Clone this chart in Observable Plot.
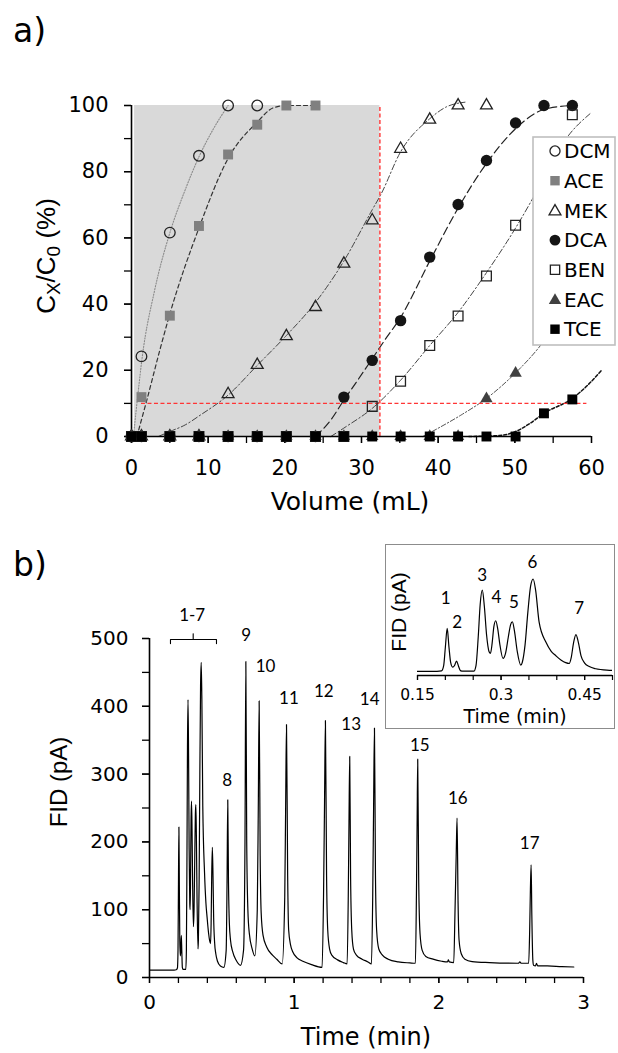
<!DOCTYPE html>
<html>
<head>
<meta charset="utf-8">
<script src="https://cdn.jsdelivr.net/npm/d3@7"></script>
<script src="https://cdn.jsdelivr.net/npm/@observablehq/plot@0.6"></script>
<style>
  html, body { margin: 0; padding: 0; background: #fff; }
  #root { position: relative; width: 618px; height: 1053px; overflow: hidden; background: #fff; }
</style>
</head>
<body>
<div id="root"></div>
<script>
// ---------------- DATA: panel a) breakthrough curves ----------------
const volumes = [0, 1.3, 5.0, 8.8, 12.6, 16.4, 20.2, 24.0, 27.7, 31.4, 35.1, 38.9, 42.6, 46.3, 50.1, 53.8, 57.5];
const compounds = ["DCM", "ACE", "MEK", "DCA", "BEN", "EAC", "TCE"];

const dcmValues = [0, 24.2, 61.6, 84.8, 100, 100, null, null, null, null, null, null, null, null, null, null, null];
const aceValues = [0, 11.9, 36.5, 63.6, 85.2, 94.2, 100, 100, null, null, null, null, null, null, null, null, null];
const mekValues = [0, 0, 0, 0, 12.8, 21.6, 30.3, 39.1, 52.2, 65.3, 86.9, 95.7, 100, 100, null, null, null];
const dcaValues = [0, 0, 0, 0, 0, 0, 0, 0, 11.9, 23.0, 35.0, 54.2, 70.1, 83.4, 94.7, 100, 100];
const benValues = [0, 0, 0, 0, 0, 0, 0, 0, 0, 9.1, 16.7, 27.5, 36.4, 48.5, 63.8, null, 97.2];
const eacValues = [0, 0, 0, 0, 0, 0, 0, 0, 0, 0, 0, 0, 0, 11.4, 19.1, null, null];
const tceValues = [0, 0, 0, 0, 0, 0, 0, 0, 0, 0, 0, 0, 0, 0, 0, 7.0, 11.2];

// fitted curves
const dcmFitVolume = [0.25, 0.8, 1.4, 3.0, 5.0, 7.0, 8.8, 10.7, 12.6];
const dcmFitValue  = [0, 12, 24, 44, 61.5, 74.5, 84.5, 93, 100];
const aceFitVolume = [0.7, 2.0, 3.8, 5.0, 8.8, 12.6, 16.4, 18.5, 20.2, 24.0];
const aceFitValue  = [0, 11, 27, 37, 63, 84, 95, 99.3, 100, 100];
const mekFitVolume = [3.5, 5.0, 7.0, 9.0, 12.6, 16.4, 20.2, 24.0, 27.7, 31.4, 32.5, 35.1, 38.9, 41.0, 43.5];
const mekFitValue  = [0, 1.5, 3.5, 6.5, 12.5, 21.5, 30.5, 40.5, 53, 68.5, 73, 86, 96, 99.5, 101];
const dcaFitVolume = [24.0, 26.0, 27.7, 29.5, 31.4, 33.0, 35.1, 38.9, 42.6, 46.3, 50.1, 53.8, 57.5];
const dcaFitValue  = [0, 5, 11, 17, 23.5, 29, 36, 53, 69, 82.5, 93, 98.8, 100];
const benFitVolume = [26.0, 28.0, 31.4, 35.1, 38.9, 42.6, 46.3, 50.1, 53.8, 56.4, 59.8];
const benFitValue  = [0, 3, 8.5, 17, 27.5, 37.5, 49.5, 63, 78, 89, 97.5];
const eacFitVolume = [38.0, 40.0, 43.0, 46.3, 50.0, 53.0, 56.0];
const eacFitValue  = [0, 2.5, 6.5, 11.5, 19, 26.5, 36];
const tceFitVolume = [44.0, 48.0, 50.1, 52.0, 53.8, 57.5, 59.5, 61.3];
const tceFitValue  = [0, 0.3, 1.5, 4, 7, 11.5, 15.5, 20];

const shadedVolume = [0.4, 32.4];     // grey band (mL)
const breakthroughLevel = 10;         // red dashed level (%)
const breakthroughSpan = [1.3, 59.4]; // extent of the red dashed level line (mL)
const volumeTicks = [0, 10, 20, 30, 40, 50, 60];
const volumeMinorTicks = [0, 5, 10, 15, 20, 25, 30, 35, 40, 45, 50, 55, 60];
const percentTicks = [0, 20, 40, 60, 80, 100];
const percentMinorTicks = [0, 10, 20, 30, 40, 50, 60, 70, 80, 90, 100];

// ---------------- DATA: panel b) chromatogram ----------------
const chromTime = [
  0, 0.17, 0.185, 0.193, 0.197, 0.2, 0.2033, 0.2065, 0.2095, 0.213, 0.2165, 0.22, 0.2235, 0.227, 0.232, 0.251, 0.255, 0.259, 0.2625, 0.2663,
  0.27, 0.274, 0.2785, 0.281, 0.284, 0.287, 0.2904, 0.294, 0.298, 0.3035, 0.308, 0.313, 0.317, 0.3203, 0.324, 0.329, 0.3354, 0.338, 0.343, 0.348,
  0.353, 0.3575, 0.362, 0.3683, 0.3804, 0.39, 0.398, 0.408, 0.416, 0.4223, 0.426, 0.43, 0.4344, 0.439, 0.4434, 0.45, 0.4583, 0.47, 0.49, 0.514,
  0.53, 0.536, 0.541, 0.546, 0.552, 0.56, 0.575, 0.6, 0.629,
  0.65, 0.66, 0.666, 0.672, 0.68, 0.69, 0.71, 0.728,
  0.745, 0.752, 0.758, 0.765, 0.772, 0.785, 0.81, 0.85, 0.88, 0.917,
  0.935, 0.941, 0.947, 0.955, 0.962, 0.975, 0.99, 1.02, 1.06, 1.12, 1.193,
  1.203, 1.21, 1.216, 1.224, 1.232, 1.245, 1.26, 1.3, 1.34, 1.366,
  1.374, 1.379, 1.384, 1.39, 1.398, 1.41, 1.43, 1.47, 1.51, 1.534,
  1.543, 1.549, 1.555, 1.562, 1.57, 1.585, 1.61, 1.65, 1.72, 1.8, 1.838,
  1.845, 1.85, 1.854, 1.861, 1.87, 1.885, 1.91, 1.96, 2.02, 2.06, 2.066, 2.072, 2.103,
  2.112, 2.12, 2.126, 2.133, 2.14, 2.155, 2.18, 2.23, 2.35, 2.55, 2.56, 2.57, 2.621,
  2.628, 2.633, 2.638, 2.643, 2.65, 2.655, 2.668, 2.675, 2.683, 2.75, 2.85, 2.933];
const chromFID = [
  11, 11, 11.5, 14, 40, 130, 222, 130, 55, 32, 40, 62, 38, 15, 12, 12, 40, 180, 340, 410,
  330, 190, 108, 100, 150, 230, 260, 220, 140, 75, 100, 180, 240, 255, 210, 110, 42, 55, 140, 300,
  430, 465, 410, 253, 155, 110, 89, 66, 54, 50, 80, 150, 192, 150, 89, 52, 35, 24, 17, 15,
  40, 140, 262, 140, 80, 55, 38, 25, 18,
  40, 200, 466, 200, 100, 65, 42, 32,
  100, 250, 408, 180, 95, 62, 45, 33, 27, 20,
  120, 250, 373, 150, 70, 48, 38, 29, 24, 19, 15,
  120, 260, 379, 150, 70, 42, 33, 26, 22, 20,
  120, 230, 326, 150, 70, 42, 33, 27, 23, 20,
  120, 250, 368, 150, 70, 42, 33, 27, 23, 21.5, 21,
  120, 230, 322, 140, 65, 40, 31, 27, 24, 23, 26, 23, 22,
  100, 180, 235, 110, 55, 35, 27, 23.5, 22, 21, 23, 21, 21,
  70, 130, 166, 90, 25, 18, 17, 21, 17, 17, 16, 15.5];

const peakLabels    = ["8", "9", "10", "11", "12", "13", "14", "15", "16", "17"];
const peakLabelTime = [0.537, 0.668, 0.802, 0.964, 1.205, 1.394, 1.522, 1.868, 2.131, 2.628];
const peakLabelFID  = [291, 504, 458, 411, 422, 373, 410, 342, 264, 197];
const groupLabel = "1-7";
const groupLabelTime = 0.295, groupLabelFID = 534;
const bracketTimes = [0.145, 0.302, 0.463];   // start, middle, end of the 1-7 brace
const bracketFID = [492.5, 498.5, 507];       // end drop, brace line, middle notch

const timeTicks = [0, 1, 2, 3];
const timeMinorTicks = d3.range(0, 16).map(i => i * 0.2);
const fidTicks = [0, 100, 200, 300, 400, 500];
const fidMinorTicks = d3.range(0, 11).map(i => i * 50);

// inset
const insetTimeRange = [0.15, 0.5];
const insetFIDRange = [-9, 600];
const insetTicks = [0.15, 0.3, 0.45];
const insetMinorTicks = d3.range(0, 8).map(i => 0.15 + i * 0.05);
const insetLabels   = ["1", "2", "3", "4", "5", "6", "7"];
const insetLabelTime = [0.2004, 0.2213, 0.2663, 0.2915, 0.3233, 0.3563, 0.4403];
const insetLabelFID  = [367, 253, 482, 375, 351, 547, 318];

// ---------------- STYLES ----------------
const valuesOf = {DCM: dcmValues, ACE: aceValues, MEK: mekValues, DCA: dcaValues, BEN: benValues, EAC: eacValues, TCE: tceValues};
const fitOf = {
  DCM: [dcmFitVolume, dcmFitValue], ACE: [aceFitVolume, aceFitValue], MEK: [mekFitVolume, mekFitValue],
  DCA: [dcaFitVolume, dcaFitValue], BEN: [benFitVolume, benFitValue], EAC: [eacFitVolume, eacFitValue], TCE: [tceFitVolume, tceFitValue]
};
const sty = {
  DCM: {symbol: "circle",   r: 5.3, fill: "none",    stroke: "#222", sw: 1.3, line: "#8a8a8a", dash: "1.2,1.6",       lw: 1.1},
  ACE: {symbol: "square",   r: 5.6, fill: "#808080", stroke: "none", sw: 0,   line: "#333",    dash: "4,3",           lw: 1.2},
  MEK: {symbol: "triangle", r: 4.4, fill: "none",    stroke: "#222", sw: 1.3, line: "#444",    dash: "6,2.5,1.5,2.5", lw: 1},
  DCA: {symbol: "circle",   r: 5.7, fill: "#151515", stroke: "none", sw: 0,   line: "#222",    dash: "8,4",           lw: 1.2},
  BEN: {symbol: "square",   r: 5.5, fill: "none",    stroke: "#222", sw: 1.3, line: "#444",    dash: "6,2.5,1.5,2.5", lw: 1},
  EAC: {symbol: "triangle", r: 4.6, fill: "#404040", stroke: "none", sw: 0,   line: "#555",    dash: "5,2,1.5,2",     lw: 1},
  TCE: {symbol: "square",   r: 5.6, fill: "#000",    stroke: "none", sw: 0,   line: "#111",    dash: "3,2",           lw: 1.5}
};
const TICKFONT = "DejaVu Sans";
const root = document.getElementById("root");
function place(node, left, top) {
  node.style.position = "absolute";
  node.style.left = left + "px";
  node.style.top = top + "px";
  root.appendChild(node);
}

// ---------------- PANEL a) ----------------
const obs = compounds.flatMap(c => volumes.map((x, i) => ({c, x, y: valuesOf[c][i]})).filter(d => d.y != null));
const fitRows = c => fitOf[c][0].map((x, i) => ({x, y: fitOf[c][1][i]}));

const topPlot = Plot.plot({
  width: 618, height: 530,
  marginLeft: 131, marginRight: 27, marginTop: 105, marginBottom: 94,
  x: {domain: [0, 60], label: null},
  y: {domain: [0, 100], label: null},
  style: {fontFamily: TICKFONT, fontSize: "21px", color: "#000", background: "transparent", overflow: "visible"},
  marks: [
    Plot.rect([{x1: shadedVolume[0], x2: shadedVolume[1]}], {x1: "x1", x2: "x2", y1: 0, y2: 100, fill: "#d9d9d9"}),
    ...compounds.map(c => Plot.line(fitRows(c), {x: "x", y: "y", curve: "monotone-x", stroke: sty[c].line, strokeDasharray: sty[c].dash, strokeWidth: sty[c].lw})),
    Plot.ruleX([shadedVolume[1]], {y1: 0, y2: 100, stroke: "#ff3535", strokeDasharray: "4,2.5", strokeWidth: 1.4}),
    Plot.ruleY([breakthroughLevel], {x1: breakthroughSpan[0], x2: breakthroughSpan[1], stroke: "#ff3535", strokeDasharray: "4,2.5", strokeWidth: 1.4}),
    Plot.ruleY([0], {stroke: "#000", strokeWidth: 1.6}),
    Plot.ruleX([0], {stroke: "#000", strokeWidth: 1.6}),
    Plot.axisX({ticks: volumeMinorTicks, tickSize: 7, tickFormat: () => "", strokeWidth: 1.3, label: null}),
    Plot.axisX({ticks: volumeTicks, tickSize: 7, tickPadding: 17, strokeWidth: 1.3, label: null}),
    Plot.axisY({ticks: percentMinorTicks, tickSize: 7, tickFormat: () => "", strokeWidth: 1.3, label: null}),
    Plot.axisY({ticks: percentTicks, tickSize: 7, tickPadding: 16, strokeWidth: 1.3, label: null}),
    ...compounds.map(c => Plot.dot(obs.filter(d => d.c === c), {
      x: "x", y: "y", symbol: sty[c].symbol, r: sty[c].r, fill: sty[c].fill,
      stroke: sty[c].stroke, strokeWidth: sty[c].sw
    }))
  ]
});
place(topPlot, 0, 0);

// legend
const leg = d3.create("svg").attr("width", 86).attr("height", 212);
leg.append("rect").attr("x", 1).attr("y", 1).attr("width", 82).attr("height", 208)
  .attr("fill", "#fff").attr("stroke", "#bfbfbf").attr("stroke-width", 1.6);
const symType = {circle: d3.symbolCircle, square: d3.symbolSquare, triangle: d3.symbolTriangle};
compounds.forEach((c, i) => {
  const cy = 15 + i * 29.7;
  const s = sty[c];
  const r = s.symbol === "triangle" ? s.r : s.r * 0.95;
  leg.append("path")
    .attr("d", d3.symbol(symType[s.symbol], Math.PI * r * r)())
    .attr("transform", `translate(23,${cy + (s.symbol === "triangle" ? 1 : 0)})`)
    .attr("fill", s.fill).attr("stroke", s.stroke === "none" ? null : s.stroke).attr("stroke-width", s.sw || null);
  leg.append("text").attr("x", 32).attr("y", cy).attr("dy", "0.36em")
    .attr("font-family", TICKFONT).attr("font-size", 20).attr("fill", "#000").text(c);
});
place(leg.node(), 532, 136);

// ---------------- PANEL b) ----------------
const chromRows = chromTime.map((t, i) => ({t, v: chromFID[i]}));
const peakRows = peakLabels.map((label, i) => ({label, t: peakLabelTime[i], v: peakLabelFID[i]}));
const bracketRows = [
  {t: bracketTimes[0], v: bracketFID[0], z: "brace"}, {t: bracketTimes[0], v: bracketFID[1], z: "brace"},
  {t: bracketTimes[2], v: bracketFID[1], z: "brace"}, {t: bracketTimes[2], v: bracketFID[0], z: "brace"},
  {t: bracketTimes[1], v: bracketFID[1], z: "notch"}, {t: bracketTimes[1], v: bracketFID[2], z: "notch"}
];

const bottomPlot = Plot.plot({
  width: 618, height: 523,
  marginLeft: 149, marginRight: 35, marginTop: 108, marginBottom: 76,
  x: {domain: [0, 3], label: null},
  y: {domain: [0, 500], label: null},
  style: {fontFamily: TICKFONT, fontSize: "20px", color: "#000", background: "transparent", overflow: "visible"},
  marks: [
    Plot.line(chromRows, {x: "t", y: "v", curve: "monotone-x", stroke: "#000", strokeWidth: 1.2}),
    Plot.ruleY([0], {stroke: "#000", strokeWidth: 1.6}),
    Plot.ruleX([0], {stroke: "#000", strokeWidth: 1.6}),
    Plot.axisX({ticks: timeMinorTicks, tickSize: 6, tickFormat: () => "", strokeWidth: 1.3, label: null}),
    Plot.axisX({ticks: timeTicks, tickSize: 6, tickPadding: 11, tickFormat: d => String(d), strokeWidth: 1.3, label: null}),
    Plot.axisY({ticks: fidMinorTicks, tickSize: 7, tickFormat: () => "", strokeWidth: 1.3, label: null}),
    Plot.axisY({ticks: fidTicks, tickSize: 7, tickPadding: 14, strokeWidth: 1.3, label: null}),
    Plot.line(bracketRows, {x: "t", y: "v", z: "z", stroke: "#000", strokeWidth: 1.1}),
    Plot.text(peakRows, {x: "t", y: "v", text: "label", fontFamily: "Lato", fontSize: 17, fill: "#000"}),
    Plot.text([groupLabel], {x: groupLabelTime, y: groupLabelFID, text: d => d, fontFamily: "Lato", fontSize: 17, fill: "#000"})
  ]
});
place(bottomPlot, 0, 530);

// inset
const insetRows = insetLabels.map((label, i) => ({label, t: insetLabelTime[i], v: insetLabelFID[i]}));
const insetPlot = Plot.plot({
  width: 228, height: 183,
  marginLeft: 31, marginRight: 2, marginTop: 6, marginBottom: 53,
  x: {domain: insetTimeRange, label: null},
  y: {domain: insetFIDRange, label: null, axis: null},
  style: {fontFamily: TICKFONT, fontSize: "15.5px", color: "#000", background: "#fff"},
  marks: [
    Plot.line(chromRows.filter(d => d.t <= 0.53), {x: "t", y: "v", curve: "monotone-x", stroke: "#000", strokeWidth: 1.2, clip: true}),
    Plot.ruleY([insetFIDRange[0]], {x1: insetTimeRange[0], x2: insetTimeRange[1], stroke: "#000", strokeWidth: 1.3}),
    Plot.axisX({ticks: insetMinorTicks, tickSize: 5, tickFormat: () => "", strokeWidth: 1.2, label: null}),
    Plot.axisX({ticks: insetTicks, tickSize: 5, tickPadding: 8, tickFormat: d => String(d), strokeWidth: 1.2, label: null}),
    Plot.text(insetRows, {x: "t", y: "v", text: "label", fontFamily: "Lato", fontSize: 17, fill: "#000"})
  ]
});
insetPlot.style.outline = "1.6px solid #8c8c8c";
place(insetPlot, 386, 545);

// ---------------- TITLES ----------------
const ov = d3.create("svg").attr("width", 618).attr("height", 1053).style("pointer-events", "none");
function txt(x, y, s, font, size, anchor = "middle", rot = 0) {
  const t = ov.append("text").attr("font-family", font).attr("font-size", size)
    .attr("text-anchor", anchor).attr("fill", "#000");
  if (rot) t.attr("transform", `translate(${x},${y}) rotate(${rot})`);
  else t.attr("x", x).attr("y", y);
  t.text(s);
  return t;
}
txt(13, 42, "a)", TICKFONT, 33, "start");
txt(13, 576, "b)", TICKFONT, 33, "start");
txt(350, 510, "Volume (mL)", TICKFONT, 25);
txt(366, 1045, "Time (min)", TICKFONT, 24);
txt(67, 782, "FID (pA)", "Liberation Sans", 24, "middle", -90);
txt(406, 612, "FID (pA)", "Liberation Sans", 21, "middle", -90);
txt(515, 723, "Time (min)", TICKFONT, 19);
// C_X/C_0 (%)
const yl = ov.append("text").attr("font-family", "Liberation Sans").attr("font-size", 26)
  .attr("text-anchor", "middle").attr("fill", "#000")
  .attr("transform", "translate(55,256) rotate(-90)");
yl.append("tspan").text("C");
yl.append("tspan").attr("dy", 5).attr("font-size", 19).text("X");
yl.append("tspan").attr("dy", -5).text("/C");
yl.append("tspan").attr("dy", 5).attr("font-size", 19).text("0");
yl.append("tspan").attr("dy", -5).text(" (%)");
place(ov.node(), 0, 0);
</script>
</body>
</html>
